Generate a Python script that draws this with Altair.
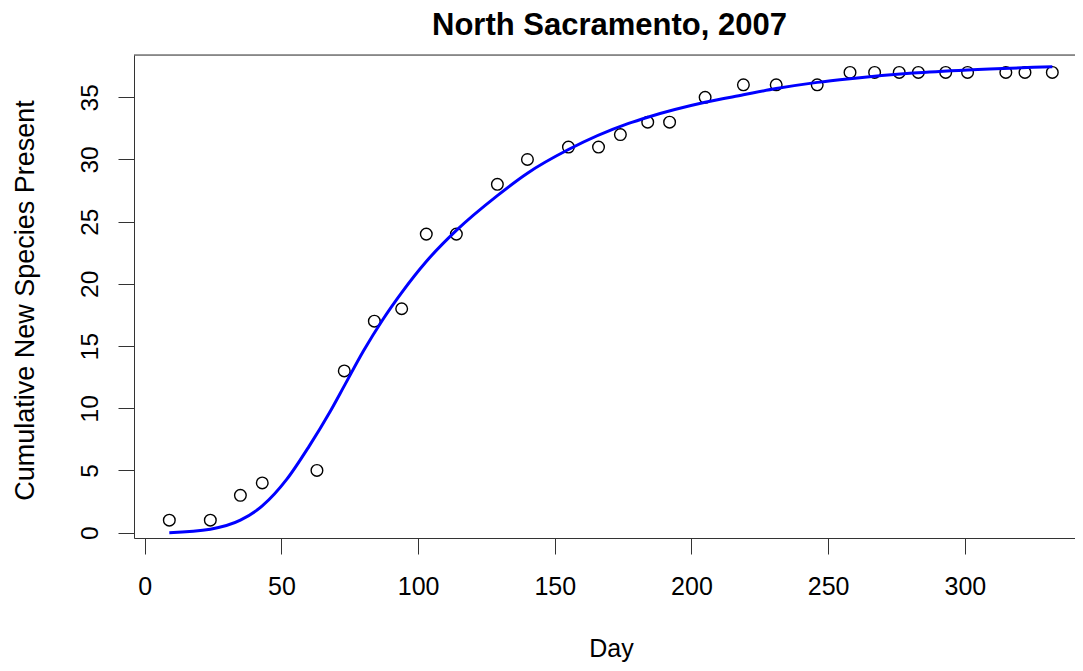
import altair as alt
import pandas as pd

TITLE = "North Sacramento, 2007"

# Observed cumulative species counts
obs_day = [9, 24, 35, 43, 63, 73, 84, 94, 103, 114, 129, 140, 155, 166, 174,
           184, 192, 205, 219, 231, 246, 258, 267, 276, 283, 293, 301, 315, 322, 332]
obs_species = [1, 1, 3, 4, 5, 13, 17, 18, 24, 24, 28, 30, 31, 31, 32,
               33, 33, 35, 36, 36, 36, 37, 37, 37, 37, 37, 37, 37, 37, 37]

# Fitted curve
fit_day = [9, 24, 35, 43, 52, 60, 68, 73, 80, 87, 94, 103, 114, 129, 140, 155,
           177, 184, 205, 219, 231, 246, 258, 281, 301, 332]
fit_species = [0.0, 0.28, 1.0, 2.15, 4.3, 6.9, 9.8, 11.8, 14.6, 17.1, 19.3, 21.8,
               24.3, 27.1, 28.9, 30.8, 32.9, 33.4, 34.6, 35.2, 35.7, 36.2, 36.5,
               36.95, 37.2, 37.45]

x_ticks = [0, 50, 100, 150, 200, 250, 300]
y_ticks = [0, 5, 10, 15, 20, 25, 30, 35]

pts = pd.DataFrame({"Day": obs_day, "Species": obs_species})
fit = pd.DataFrame({"Day": fit_day, "Species": fit_species})
single = pd.DataFrame({"label": [TITLE]})

W, H = 941, 483
FONT = "Liberation Sans"
LINE = "#333333"

xscale = alt.Scale(domain=[-3.92, 340.3], nice=False, zero=False)
yscale = alt.Scale(domain=[-0.43, 38.4], nice=False, zero=False)

xaxis = alt.Axis(
    title="Day", values=x_ticks, grid=False,
    tickSize=16, tickColor=LINE, tickWidth=1,
    domainColor=LINE, domainWidth=1,
    labelFontSize=25, labelFont=FONT, labelColor="black", labelPadding=20,
    labelFlush=False, labelOverlap=False,
    titleFontSize=25, titleFont=FONT, titleFontWeight="normal", titleColor="black",
    titleBaseline="alphabetic", titleY=118, titleX=477, titleAlign="center",
)
yaxis = alt.Axis(
    title="Cumulative New Species Present", values=y_ticks, grid=False,
    tickSize=16, tickColor=LINE, tickWidth=1,
    domainColor=LINE, domainWidth=1,
    labelFontSize=24.5, labelFont=FONT, labelColor="black", labelPadding=21,
    labelAngle=270, labelAlign="center", labelBaseline="alphabetic",
    labelFlush=False, labelOverlap=False,
    titleFontSize=27, titleFont=FONT, titleFontWeight="normal", titleColor="black",
    titleAngle=270, titleBaseline="alphabetic", titleAlign="center",
    titleX=-101, titleY=245,
)

points = alt.Chart(pts).mark_point(
    shape="circle", filled=False, size=135, strokeWidth=1.4, color="black", opacity=1
).encode(
    x=alt.X("Day:Q", scale=xscale, axis=xaxis),
    y=alt.Y("Species:Q", scale=yscale, axis=yaxis),
)

curve = alt.Chart(fit).mark_line(
    color="#0000FF", strokeWidth=3, interpolate="monotone"
).encode(
    x=alt.X("Day:Q", scale=xscale),
    y=alt.Y("Species:Q", scale=yscale),
)

top_rule = alt.Chart(single).mark_rule(color=LINE, strokeWidth=1).encode(
    x=alt.value(0), x2=alt.value(W), y=alt.value(0)
)

title_text = alt.Chart(single).mark_text(
    fontSize=31, fontWeight="bold", font=FONT, color="black",
    align="center", baseline="alphabetic",
).encode(
    text="label:N", x=alt.value(W / 2 + 5), y=alt.value(-20)
)

chart = alt.layer(points, curve, top_rule, title_text).properties(
    width=W,
    height=H,
    autosize=alt.AutoSizeParams(type="none"),
    padding={"left": 126, "top": 47, "right": 0, "bottom": 124},
).configure_view(stroke=None).configure(background="white")

chart.save("out.html", embed_options={"renderer": "svg", "actions": False})
